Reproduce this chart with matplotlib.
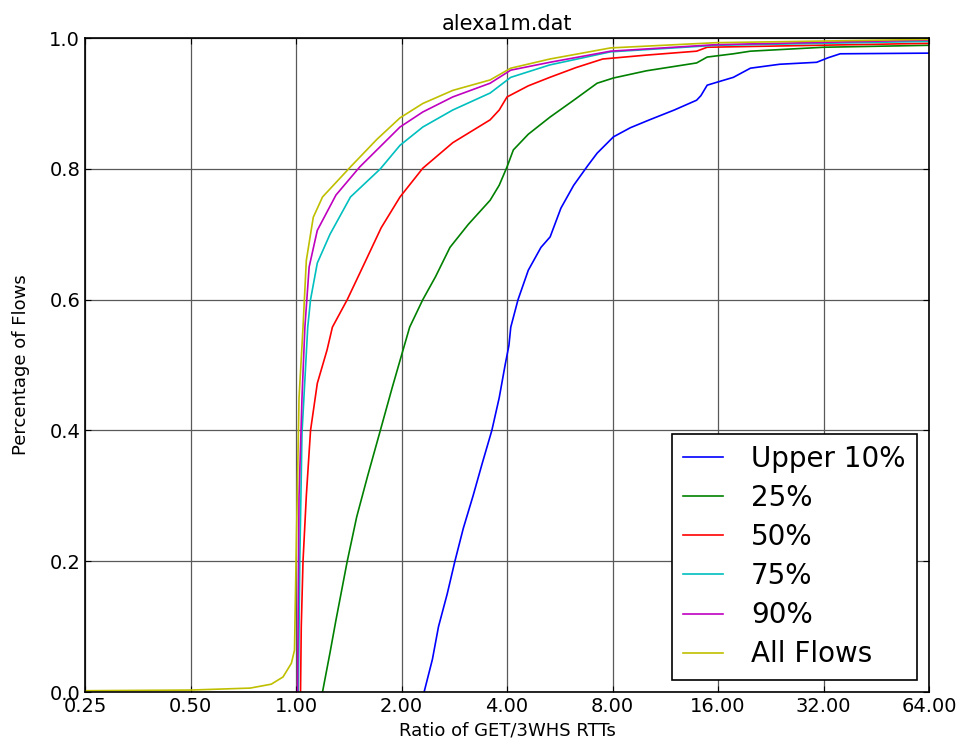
import matplotlib
matplotlib.use('Agg')
import matplotlib.pyplot as plt
from matplotlib.ticker import FixedLocator, FormatStrFormatter, NullLocator

# CDF points (ratio, fraction of flows)
upper10_x = [2.32, 2.45, 2.55, 2.7, 2.84, 3.0, 3.2, 3.4, 3.62, 3.8, 3.95, 4.05, 4.1, 4.3, 4.6, 5.0, 5.31,
             5.7, 6.2, 6.8, 7.23, 8.05, 9.0, 10.2, 12.0, 13.9, 14.3, 14.9, 16.0, 17.7, 19.8, 24.0, 30.6,
             33.0, 35.7, 64.0]
upper10_y = [0.0, 0.05, 0.1, 0.15, 0.2, 0.25, 0.3, 0.35, 0.4, 0.45, 0.5, 0.53, 0.558, 0.6, 0.645, 0.68, 0.696,
             0.74, 0.775, 0.805, 0.824, 0.849, 0.863, 0.875, 0.89, 0.905, 0.912, 0.928, 0.933, 0.94, 0.954, 0.96,
             0.963, 0.97, 0.976, 0.977]

p25_x = [1.19, 1.25, 1.3, 1.40, 1.49, 1.6, 1.74, 1.88, 2.02, 2.11, 2.30, 2.5, 2.75, 3.1, 3.58, 3.8, 4.0, 4.17,
         4.6, 5.3, 6.2, 7.23, 8.05, 10.0, 13.9, 14.9, 17.7, 19.8, 32.0, 64.0]
p25_y = [0.0, 0.06, 0.11, 0.2, 0.268, 0.33, 0.40, 0.465, 0.523, 0.558, 0.60, 0.635, 0.68, 0.715, 0.752, 0.775,
         0.803, 0.829, 0.853, 0.879, 0.905, 0.931, 0.939, 0.95, 0.962, 0.971, 0.976, 0.98, 0.986, 0.989]

p50_x = [1.03, 1.035, 1.047, 1.07, 1.10, 1.15, 1.226, 1.27, 1.40, 1.55, 1.75, 1.98, 2.3, 2.8, 3.58, 3.8, 4.0,
         4.6, 5.3, 6.3, 7.5, 10.0, 13.9, 14.9, 64.0]
p50_y = [0.0, 0.1, 0.2, 0.3, 0.40, 0.472, 0.523, 0.558, 0.6, 0.65, 0.71, 0.757, 0.801, 0.84, 0.875, 0.89, 0.91,
         0.927, 0.94, 0.955, 0.968, 0.974, 0.98, 0.986, 0.992]

p75_x = [1.015, 1.025, 1.04, 1.08, 1.10, 1.15, 1.25, 1.43, 1.74, 1.98, 2.3, 2.8, 3.58, 4.1, 5.3, 7.9, 15.8, 64.0]
p75_y = [0.0, 0.2, 0.396, 0.558, 0.6, 0.656, 0.7, 0.757, 0.80, 0.836, 0.864, 0.89, 0.916, 0.94, 0.959, 0.979,
         0.989, 0.995]

p90_x = [1.01, 1.02, 1.04, 1.06, 1.09, 1.15, 1.3, 1.52, 1.98, 2.3, 2.8, 3.58, 4.1, 5.3, 7.9, 15.8, 64.0]
p90_y = [0.0, 0.3, 0.45, 0.558, 0.65, 0.706, 0.76, 0.803, 0.864, 0.887, 0.91, 0.931, 0.951, 0.963, 0.98, 0.99,
         0.997]

all_x = [0.25, 0.5, 0.74, 0.85, 0.918, 0.97, 0.99, 1.0, 1.02, 1.047, 1.07, 1.12, 1.19, 1.43, 1.7, 1.98, 2.3,
         2.8, 3.58, 4.1, 5.3, 7.9, 15.8, 64.0]
all_y = [0.002, 0.003, 0.006, 0.012, 0.023, 0.044, 0.064, 0.2, 0.45, 0.558, 0.66, 0.726, 0.757, 0.803, 0.845,
         0.878, 0.90, 0.92, 0.936, 0.954, 0.968, 0.985, 0.993, 0.998]

series = [
    (upper10_x, upper10_y, 'b', 'Upper 10%'),
    (p25_x, p25_y, 'g', '25%'),
    (p50_x, p50_y, 'r', '50%'),
    (p75_x, p75_y, 'c', '75%'),
    (p90_x, p90_y, 'm', '90%'),
    (all_x, all_y, 'y', 'All Flows'),
]

xticks = [0.25, 0.5, 1, 2, 4, 8, 16, 32, 64]
yticks = [0.0, 0.2, 0.4, 0.6, 0.8, 1.0]

fig = plt.figure(figsize=(9.63, 7.47), dpi=100)
ax = fig.add_axes([0.0883, 0.0736, 0.8764, 0.8754])

for x, y, c, lab in series:
    ax.plot(x, y, color=c, linewidth=1.2, label=lab)

ax.set_xscale('log', base=2)
ax.set_xlim(0.25, 64)
ax.set_ylim(0, 1)
ax.xaxis.set_major_locator(FixedLocator(xticks))
ax.xaxis.set_major_formatter(FormatStrFormatter('%.2f'))
ax.xaxis.set_minor_locator(NullLocator())
ax.set_yticks(yticks)
ax.yaxis.set_major_formatter(FormatStrFormatter('%.1f'))
ax.tick_params(direction='in', labelsize=14, length=4, top=True, right=True)
ax.grid(True, color='0.35', linestyle='-', linewidth=0.9)
for s in ax.spines.values():
    s.set_linewidth(1.2)

ax.set_title('alexa1m.dat', fontsize=15)
ax.set_xlabel('Ratio of GET/3WHS RTTs', fontsize=13)
ax.set_ylabel('Percentage of Flows', fontsize=13, labelpad=14)

leg = ax.legend(loc='lower right', fontsize=20, fancybox=False, framealpha=1,
                edgecolor='black', handlelength=1.45, handletextpad=1.0,
                labelspacing=0.4, borderaxespad=0.45)
leg.get_frame().set_linewidth(1.2)

fig.savefig('out.png', dpi=100)
